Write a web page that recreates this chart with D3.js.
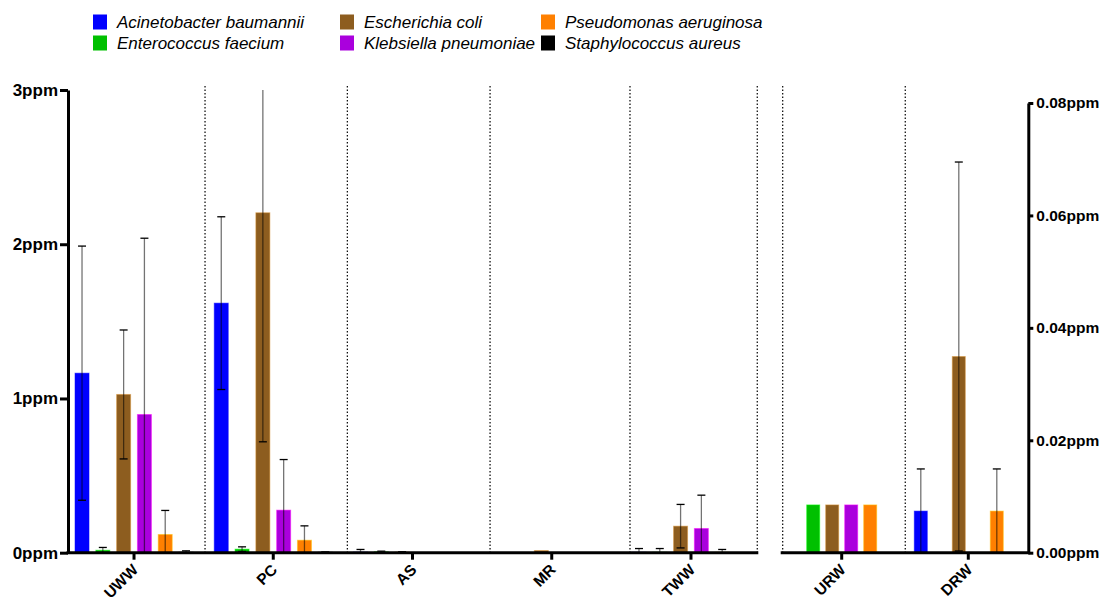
<!DOCTYPE html>
<html>
<head>
<meta charset="utf-8">
<script src="https://cdn.jsdelivr.net/npm/d3@7"></script>
<style>
  body { margin: 0; background: #fff; }
  svg { display: block; font-family: Arial, "Liberation Sans", sans-serif; }
</style>
</head>
<body>
<div id="container"></div>
<script>
// species (legend order = bar order within each group)
const species = [
    "Acinetobacter baumannii",
    "Enterococcus faecium",
    "Escherichia coli",
    "Klebsiella pneumoniae",
    "Pseudomonas aeruginosa",
    "Staphylococcus aureus"
];
const speciesColors = ["#0000ff", "#00c000", "#8d5d1f", "#aa00dd", "#ff8000", "#000000"];

// left panel (ppm, 0-3)
const leftSites = ["UWW", "PC", "AS", "MR", "TWW"];
const leftMeans = [
    [1.164, 0.016, 1.026, 0.896, 0.118, 0.003],
    [1.618, 0.023, 2.204, 0.276, 0.081, 0.003],
    [0.004, 0.006, 0.004, 0, 0, 0],
    [0, 0, 0.014, 0, 0, 0],
    [0.003, 0.003, 0.172, 0.157, 0.003, 0]
];
const leftSds = [
    [0.824, 0.018, 0.418, 1.143, 0.156, 0.009],
    [0.560, 0.015, 1.485, 0.328, 0.093, 0.002],
    [0.017, 0.004, 0.002, 0, 0, 0],
    [0, 0, 0, 0, 0, 0],
    [0.024, 0.024, 0.141, 0.216, 0.018, 0]
];
const leftTicks = [0, 1, 2, 3];

// right panel (ppm, 0-0.08)
const rightSites = ["URW", "DRW"];
const rightMeans = [
    [0, 0.0085, 0.0085, 0.0085, 0.0085, 0],
    [0.0074, 0, 0.0349, 0, 0.0074, 0]
];
const rightSds = [
    [0, 0, 0, 0, 0, 0],
    [0.0075, 0, 0.0346, 0, 0.0075, 0]
];
const rightTicks = [0, 0.02, 0.04, 0.06, 0.08];

// dotted separators: [site, offset in steps from its centre]
const leftSeparators = [["UWW", 0.51], ["PC", 0.532], ["AS", 0.557], ["MR", 0.562], ["TWW", 0.476]];
const rightSeparators = [["URW", -0.466], ["URW", 0.502]];

const W = 1101, H = 603;
const baseY = 552.7;

const svg = d3.select('#container')
    .append('svg')
    .attr('width', W)
    .attr('height', H);

const yLeft = d3.scaleLinear().domain([0, 3]).range([baseY, 90]);
const yRight = d3.scaleLinear().domain([0, 0.08]).range([baseY, 103]);

const xLeft = d3.scaleBand().domain(leftSites).range([64.4, 760.6]);
const xRight = d3.scaleBand().domain(rightSites).range([778.4, 1031.6]);

const innerLeft = d3.scaleBand().domain(species).range([-62.4, 62.4])
    .paddingInner(0.327).paddingOuter(0.1635);
const innerRight = d3.scaleBand().domain(species).range([-57, 57])
    .paddingInner(0.316).paddingOuter(0.158);

const color = d3.scaleOrdinal().domain(species).range(speciesColors);

const leftAxisX = 68;
const rightAxisX = 1028.3;

// separators
const drawSeparators = (seps, x) => {
    svg.append('g').selectAll('line')
        .data(seps)
        .join('line')
        .attr('x1', d => x(d[0]) + x.bandwidth() / 2 + d[1] * x.step())
        .attr('x2', d => x(d[0]) + x.bandwidth() / 2 + d[1] * x.step())
        .attr('y1', 86)
        .attr('y2', baseY)
        .attr('stroke', '#000')
        .attr('stroke-width', 1.2)
        .attr('stroke-dasharray', '1.5,2');
};
drawSeparators(leftSeparators, xLeft);
drawSeparators(rightSeparators, xRight);

// bars + error bars
const drawPanel = (sites, means, sds, x, inner, y) => {
    const rows = [];
    sites.forEach((s, i) => species.forEach((sp, j) => {
        rows.push({site: s, species: sp, mean: means[i][j], sd: sds[i][j]});
    }));
    const [lo, hi] = y.domain();
    const g = svg.append('g');
    const cx = d => x(d.site) + x.bandwidth() / 2 + inner(d.species);

    g.selectAll('rect')
        .data(rows.filter(d => d.mean > 0))
        .join('rect')
        .attr('x', d => cx(d))
        .attr('width', inner.bandwidth())
        .attr('y', d => y(d.mean))
        .attr('height', d => y(0) - y(d.mean))
        .attr('fill', d => color(d.species))
        .attr('stroke', d => d3.color(color(d.species)).brighter(1.2))
        .attr('stroke-opacity', 0.5)
        .attr('stroke-width', 1);

    const errRows = rows.filter(d => d.sd > 0);
    const mid = d => cx(d) + inner.bandwidth() / 2;
    const top = d => Math.min(hi, d.mean + d.sd);
    const bot = d => Math.max(lo, d.mean - d.sd);

    g.selectAll('line.err')
        .data(errRows)
        .join('line')
        .attr('class', 'err')
        .attr('x1', mid).attr('x2', mid)
        .attr('y1', d => y(top(d)))
        .attr('y2', d => y(bot(d)))
        .attr('stroke', '#000')
        .attr('stroke-opacity', 0.55)
        .attr('stroke-width', 1.3);

    const caps = [];
    errRows.forEach(d => {
        if (d.mean + d.sd <= hi) caps.push({d, v: d.mean + d.sd});
        if (d.mean - d.sd > lo) caps.push({d, v: d.mean - d.sd});
    });
    g.selectAll('line.cap')
        .data(caps)
        .join('line')
        .attr('class', 'cap')
        .attr('x1', c => mid(c.d) - 4)
        .attr('x2', c => mid(c.d) + 4)
        .attr('y1', c => y(c.v))
        .attr('y2', c => y(c.v))
        .attr('stroke', '#000')
        .attr('stroke-width', 1.3);
};
drawPanel(leftSites, leftMeans, leftSds, xLeft, innerLeft, yLeft);
drawPanel(rightSites, rightMeans, rightSds, xRight, innerRight, yRight);

// value axes
const styleAxis = (g, fs) => {
    g.select('.domain').attr('stroke-width', 3).attr('stroke', '#000');
    g.selectAll('.tick line').attr('stroke-width', 3).attr('stroke', '#000');
    g.selectAll('.tick text')
        .attr('fill', '#000')
        .style('font-size', fs + 'px')
        .style('font-weight', 'bold');
};

svg.append('g')
    .attr('transform', `translate(${leftAxisX},0)`)
    .call(d3.axisLeft(yLeft).tickValues(leftTicks).tickSize(8).tickSizeOuter(0).tickPadding(2)
        .tickFormat(d => d + 'ppm'))
    .call(g => styleAxis(g, 17));

svg.append('g')
    .attr('transform', `translate(${rightAxisX},0)`)
    .call(d3.axisRight(yRight).tickValues(rightTicks).tickSize(5).tickSizeOuter(0).tickPadding(3)
        .tickFormat(d => d3.format('.2f')(d) + 'ppm'))
    .call(g => styleAxis(g, 15.5));

// category axes
const drawCatAxis = (x, x0, x1) => {
    const g = svg.append('g').attr('transform', `translate(0,${baseY})`);
    g.call(d3.axisBottom(x).tickSize(7).tickSizeOuter(0).tickFormat(''));
    g.select('.domain').remove();
    g.selectAll('.tick line').attr('stroke-width', 3).attr('stroke', '#000');
    g.append('line')
        .attr('x1', x0).attr('x2', x1)
        .attr('stroke', '#000')
        .attr('stroke-width', 3);
    g.selectAll('.tick')
        .append('text')
        .attr('transform', 'translate(5,18) rotate(-45)')
        .attr('text-anchor', 'end')
        .attr('fill', '#000')
        .style('font-size', '15.5px')
        .style('font-weight', 'bold')
        .text(d => d);
};
drawCatAxis(xLeft, leftAxisX - 1.5, xLeft.range()[1] - 2.3);
drawCatAxis(xRight, xRight.range()[0] + 2.3, rightAxisX + 1.5);

// legend
const legendCols = [93, 340, 541];
const legendRows = [22, 43];
const legend = svg.append('g')
    .selectAll('g')
    .data(species)
    .join('g')
    .attr('transform', (d, i) => `translate(${legendCols[Math.floor(i / 2)]},${legendRows[i % 2]})`);

legend.append('rect')
    .attr('x', 0).attr('y', -7.5)
    .attr('width', 14).attr('height', 15)
    .attr('fill', d => color(d));

legend.append('text')
    .attr('x', 24)
    .attr('dy', '0.36em')
    .style('font-size', '17px')
    .style('font-style', 'italic')
    .attr('fill', '#000')
    .text(d => d);
</script>
</body>
</html>
